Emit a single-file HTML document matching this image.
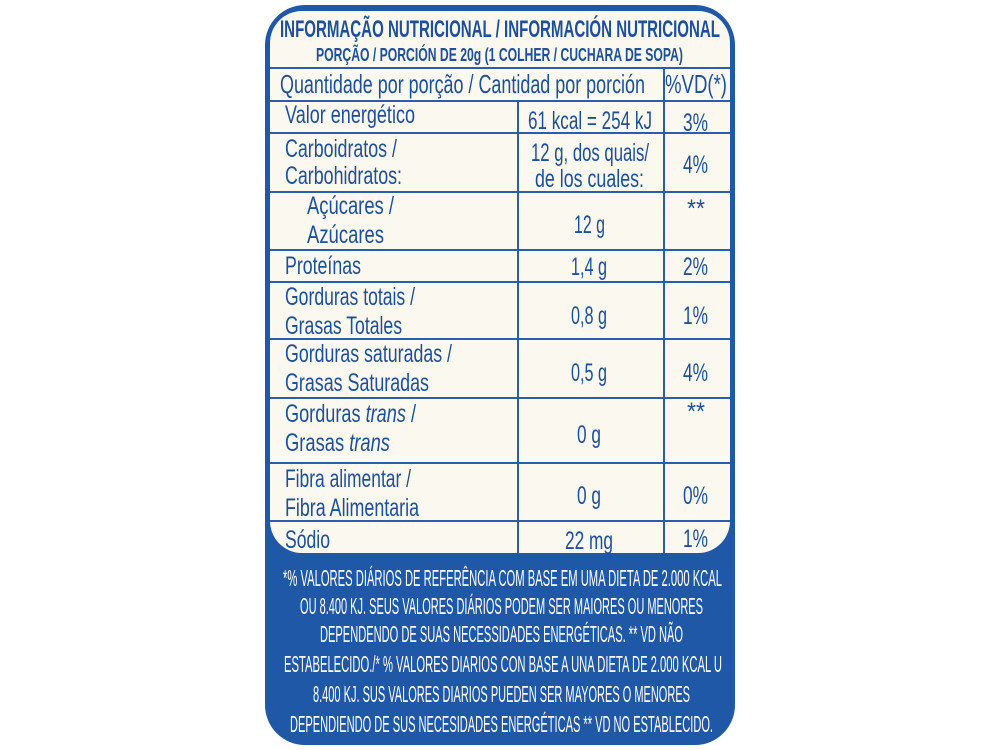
<!DOCTYPE html>
<html><head><meta charset="utf-8"><style>
body{margin:0;width:1000px;height:750px;background:#fff;overflow:hidden}
svg{display:block}
text{font-family:"Liberation Sans",sans-serif;fill:#1d4f9a}
.b{font-size:25px}
.w{fill:#fff;font-size:23px}
</style></head><body>
<svg width="1000" height="750" viewBox="0 0 1000 750">
<rect x="265" y="5" width="470" height="740" rx="40" fill="#1f58a6"/>
<rect x="270" y="11" width="460" height="542" rx="32" fill="#fbf8ef"/>
<g fill="#2a5ea8">
<rect x="270" y="67" width="460" height="2"/>
<rect x="270" y="100" width="460" height="2"/>
<rect x="270" y="132" width="460" height="2"/>
<rect x="270" y="191" width="460" height="2"/>
<rect x="270" y="249" width="460" height="2"/>
<rect x="270" y="281" width="460" height="2"/>
<rect x="270" y="338" width="460" height="2"/>
<rect x="270" y="397" width="460" height="2"/>
<rect x="270" y="462" width="460" height="2"/>
<rect x="270" y="520" width="460" height="2"/>
<rect x="663" y="67" width="2" height="486"/>
<rect x="517" y="100" width="2" height="453"/>
</g>
<text x="280" y="37" font-size="24" font-weight="bold" textLength="440" lengthAdjust="spacingAndGlyphs">INFORMAÇÃO NUTRICIONAL / INFORMACIÓN NUTRICIONAL</text>
<text x="316" y="61" font-size="18" font-weight="bold" textLength="367" lengthAdjust="spacingAndGlyphs">PORÇÃO / PORCIÓN DE 20g (1 COLHER / CUCHARA DE SOPA)</text>
<g class="b">
<text x="280" y="93" font-size="26" textLength="365" lengthAdjust="spacingAndGlyphs">Quantidade por porção / Cantidad por porción</text>
<text x="665" y="93" font-size="26" textLength="62" lengthAdjust="spacingAndGlyphs">%VD(*)</text>
<text x="285" y="123" textLength="130" lengthAdjust="spacingAndGlyphs">Valor energético</text>
<text x="528" y="129" textLength="124" lengthAdjust="spacingAndGlyphs">61 kcal = 254 kJ</text>
<text x="683" y="131" textLength="25" lengthAdjust="spacingAndGlyphs">3%</text>
<text x="285" y="157" textLength="112" lengthAdjust="spacingAndGlyphs">Carboidratos /</text>
<text x="285" y="184" textLength="117" lengthAdjust="spacingAndGlyphs">Carbohidratos:</text>
<text x="531" y="161" textLength="118" lengthAdjust="spacingAndGlyphs">12 g, dos quais/</text>
<text x="535" y="187" textLength="109" lengthAdjust="spacingAndGlyphs">de los cuales:</text>
<text x="683" y="173" textLength="25" lengthAdjust="spacingAndGlyphs">4%</text>
<text x="307" y="214" textLength="87" lengthAdjust="spacingAndGlyphs">Açúcares /</text>
<text x="307" y="243" textLength="77" lengthAdjust="spacingAndGlyphs">Azúcares</text>
<text x="574" y="233" textLength="31" lengthAdjust="spacingAndGlyphs">12 g</text>
<text x="687" y="217" textLength="18" lengthAdjust="spacingAndGlyphs">**</text>
<text x="285" y="274" textLength="76" lengthAdjust="spacingAndGlyphs">Proteínas</text>
<text x="571" y="275" textLength="36" lengthAdjust="spacingAndGlyphs">1,4 g</text>
<text x="683" y="275" textLength="25" lengthAdjust="spacingAndGlyphs">2%</text>
<text x="285" y="305" textLength="130" lengthAdjust="spacingAndGlyphs">Gorduras totais /</text>
<text x="285" y="334" textLength="117" lengthAdjust="spacingAndGlyphs">Grasas Totales</text>
<text x="571" y="324" textLength="36" lengthAdjust="spacingAndGlyphs">0,8 g</text>
<text x="683" y="324" textLength="25" lengthAdjust="spacingAndGlyphs">1%</text>
<text x="285" y="362" textLength="167" lengthAdjust="spacingAndGlyphs">Gorduras saturadas /</text>
<text x="285" y="391" textLength="144" lengthAdjust="spacingAndGlyphs">Grasas Saturadas</text>
<text x="571" y="381" textLength="36" lengthAdjust="spacingAndGlyphs">0,5 g</text>
<text x="683" y="381" textLength="25" lengthAdjust="spacingAndGlyphs">4%</text>
<text x="285" y="422" textLength="131" lengthAdjust="spacingAndGlyphs">Gorduras <tspan font-style="italic">trans</tspan> /</text>
<text x="285" y="451" textLength="105" lengthAdjust="spacingAndGlyphs">Grasas <tspan font-style="italic">trans</tspan></text>
<text x="577" y="443" textLength="24" lengthAdjust="spacingAndGlyphs">0 g</text>
<text x="687" y="420" textLength="18" lengthAdjust="spacingAndGlyphs">**</text>
<text x="285" y="487" textLength="126" lengthAdjust="spacingAndGlyphs">Fibra alimentar /</text>
<text x="285" y="516" textLength="134" lengthAdjust="spacingAndGlyphs">Fibra Alimentaria</text>
<text x="577" y="504" textLength="24" lengthAdjust="spacingAndGlyphs">0 g</text>
<text x="683" y="504" textLength="25" lengthAdjust="spacingAndGlyphs">0%</text>
<text x="285" y="548" textLength="45" lengthAdjust="spacingAndGlyphs">Sódio</text>
<text x="565" y="549" textLength="48" lengthAdjust="spacingAndGlyphs">22 mg</text>
<text x="683" y="547" textLength="25" lengthAdjust="spacingAndGlyphs">1%</text>
</g>
<g>
<text class="w" x="283" y="586" textLength="439" lengthAdjust="spacingAndGlyphs">*% VALORES DIÁRIOS DE REFERÊNCIA COM BASE EM UMA DIETA DE 2.000 KCAL</text>
<text class="w" x="300" y="614" textLength="403" lengthAdjust="spacingAndGlyphs">OU 8.400 KJ. SEUS VALORES DIÁRIOS PODEM SER MAIORES OU MENORES</text>
<text class="w" x="320" y="642" textLength="363" lengthAdjust="spacingAndGlyphs">DEPENDENDO DE SUAS NECESSIDADES ENERGÉTICAS. ** VD NÃO</text>
<text class="w" x="284" y="672" textLength="438" lengthAdjust="spacingAndGlyphs">ESTABELECIDO./* % VALORES DIARIOS CON BASE A UNA DIETA DE 2.000 KCAL U</text>
<text class="w" x="313" y="702" textLength="377" lengthAdjust="spacingAndGlyphs">8.400 KJ. SUS VALORES DIARIOS PUEDEN SER MAYORES O MENORES</text>
<text class="w" x="290" y="732" textLength="423" lengthAdjust="spacingAndGlyphs">DEPENDIENDO DE SUS NECESIDADES ENERGÉTICAS ** VD NO ESTABLECIDO.</text>
</g>
</svg>
</body></html>
